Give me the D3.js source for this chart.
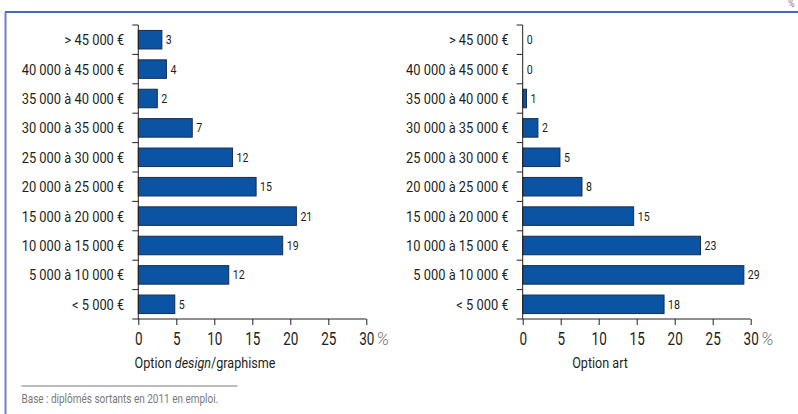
<!DOCTYPE html>
<html>
<head>
<meta charset="utf-8">
<script src="https://cdn.jsdelivr.net/npm/d3@7"></script>
<style>
  body { margin: 0; background: #fff; }
  svg { display: block; font-family: Roboto, "DejaVu Sans Condensed", sans-serif; }
</style>
</head>
<body>
<svg id="chart" width="798" height="414"></svg>
<script>
// salary brackets, top to bottom
const brackets = [
	"> 45 000 €",
	"40 000 à 45 000 €",
	"35 000 à 40 000 €",
	"30 000 à 35 000 €",
	"25 000 à 30 000 €",
	"20 000 à 25 000 €",
	"15 000 à 20 000 €",
	"10 000 à 15 000 €",
	"5 000 à 10 000 €",
	"< 5 000 €"
]

const designValues = [3.1, 3.7, 2.5, 7.1, 12.4, 15.5, 20.8, 19.0, 11.9, 4.8]
const designLabels = [3, 4, 2, 7, 12, 15, 21, 19, 12, 5]
const artValues = [0, 0, 0.5, 2.0, 4.9, 7.8, 14.6, 23.4, 29.1, 18.6]
const artLabels = [0, 0, 1, 2, 5, 8, 15, 23, 29, 18]

const xTicks = [0, 5, 10, 15, 20, 25, 30]

const colours = {
	bar: "#0b53a3",
	barEdge: "#1c2b48",
	text: "#231f20",
	grey: "#7a7a7a",
	frame: "#0b35a0",
	frameSide: "#6f7fcc"
}

/**
 * The original uses a condensed face. None is installed, so the
 * text is squeezed horizontally around its anchor point instead.
 */
function squeeze(sel, k) {
	sel.attr("transform", function () {
		const x = +this.getAttribute("x") || 0
		const y = +this.getAttribute("y") || 0
		return `translate(${x},${y}) scale(${k},1)`
	})
		.attr("x", 0)
		.attr("y", 0)
}

const svg = d3.select("#chart")

// frame: dark blue top rule, lighter rule down the left
svg.append("line")
	.attr("x1", 5).attr("x2", 798)
	.attr("y1", 12).attr("y2", 12)
	.attr("stroke", colours.frame)
	.attr("stroke-width", 1.5)
svg.append("line")
	.attr("x1", 5.5).attr("x2", 5.5)
	.attr("y1", 12).attr("y2", 414)
	.attr("stroke", colours.frameSide)
	.attr("stroke-width", 2)

// unit mark in the corner, cut by the edge as in the original
svg.append("text")
	.attr("x", 788).attr("y", 7)
	.attr("font-size", 11)
	.attr("fill", colours.grey)
	.text("%")
	.call(squeeze, 0.82)

const y = d3.scaleBand()
	.domain(brackets)
	.range([25, 319])
	.paddingInner(0.37)
	.paddingOuter(0.185)

function drawPanel(x0, values, labels, titleX, title) {
	const g = svg.append("g")
	const x = d3.scaleLinear().domain([0, 30]).range([x0, x0 + 228])
	const rows = brackets.map((b, i) => ({ bracket: b, value: values[i], label: labels[i] }))
	const gap = (y.step() - y.bandwidth()) / 2

	// bars
	g.selectAll(".bar")
		.data(rows.filter(d => d.value > 0))
		.enter()
		.append("rect")
		.attr("class", "bar")
		.attr("x", x(0))
		.attr("y", d => y(d.bracket))
		.attr("width", d => x(d.value) - x(0))
		.attr("height", y.bandwidth())
		.attr("fill", colours.bar)
		.attr("stroke", colours.barEdge)
		.attr("stroke-width", 1)

	// value labels
	g.selectAll(".value")
		.data(rows)
		.enter()
		.append("text")
		.attr("class", "value")
		.attr("x", d => x(d.value) + 4)
		.attr("y", d => y(d.bracket) + y.bandwidth() / 2)
		.attr("dy", "0.36em")
		.attr("font-size", 12.5)
		.attr("fill", colours.text)
		.text(d => d.label)
		.call(squeeze, 0.85)

	// category labels
	g.selectAll(".cat")
		.data(rows)
		.enter()
		.append("text")
		.attr("class", "cat")
		.attr("x", x(0) - 14)
		.attr("y", d => y(d.bracket) + y.bandwidth() / 2)
		.attr("dy", "0.36em")
		.attr("text-anchor", "end")
		.attr("font-size", 15)
		.attr("fill", colours.text)
		.text(d => d.bracket)
		.call(squeeze, 0.86)

	// vertical axis with ticks between brackets
	const yAxis = g.append("g").attr("stroke", colours.text).attr("stroke-width", 1)
	yAxis.append("line")
		.attr("x1", x(0)).attr("x2", x(0))
		.attr("y1", y.range()[0]).attr("y2", y.range()[1])
	yAxis.selectAll(".ytick")
		.data(brackets)
		.enter()
		.append("line")
		.attr("class", "ytick")
		.attr("x1", x(0) - 6).attr("x2", x(0))
		.attr("y1", d => y(d) - gap)
		.attr("y2", d => y(d) - gap)

	// horizontal axis
	const xAxis = g.append("g")
		.attr("transform", `translate(0,${y.range()[1]})`)
		.call(d3.axisBottom(x).tickValues(xTicks).tickSize(6).tickSizeOuter(0))
		.attr("font-family", null)
		.attr("font-size", null)
	xAxis.select(".domain").remove()
	xAxis.append("line")
		.attr("x1", x(0) - 6).attr("x2", x(30))
		.attr("stroke", colours.text)
	xAxis.selectAll(".tick line").attr("stroke", colours.text)
	xAxis.selectAll(".tick text")
		.attr("font-size", 18)
		.attr("fill", colours.text)
		.attr("dy", null)
		.attr("y", 26)
		.call(squeeze, 0.75)
	xAxis.append("text")
		.attr("x", x(30) + 10)
		.attr("y", 26)
		.attr("text-anchor", "start")
		.attr("font-size", 18)
		.attr("font-style", "italic")
		.attr("font-weight", 300)
		.attr("fill", colours.grey)
		.text("%")

	// panel title
	const t = g.append("text")
		.attr("x", titleX)
		.attr("y", 368)
		.attr("text-anchor", "middle")
		.attr("font-size", 15)
		.attr("fill", colours.text)
	title.forEach(part => t.append("tspan")
		.attr("font-style", part.italic ? "italic" : null)
		.text(part.text))
	t.call(squeeze, 0.84)
}

drawPanel(138.3, designValues, designLabels, 205, [
	{ text: "Option " },
	{ text: "design", italic: true },
	{ text: "/graphisme" }
])
drawPanel(522.7, artValues, artLabels, 600, [{ text: "Option art" }])

// source note
svg.append("line")
	.attr("x1", 21.5).attr("x2", 237.5)
	.attr("y1", 386).attr("y2", 386)
	.attr("stroke", colours.grey)
	.attr("stroke-width", 1)
svg.append("text")
	.attr("x", 21.5).attr("y", 403)
	.attr("font-size", 12.5)
	.attr("fill", colours.grey)
	.text("Base : diplômés sortants en 2011 en emploi.")
	.call(squeeze, 0.8)
</script>
</body>
</html>
